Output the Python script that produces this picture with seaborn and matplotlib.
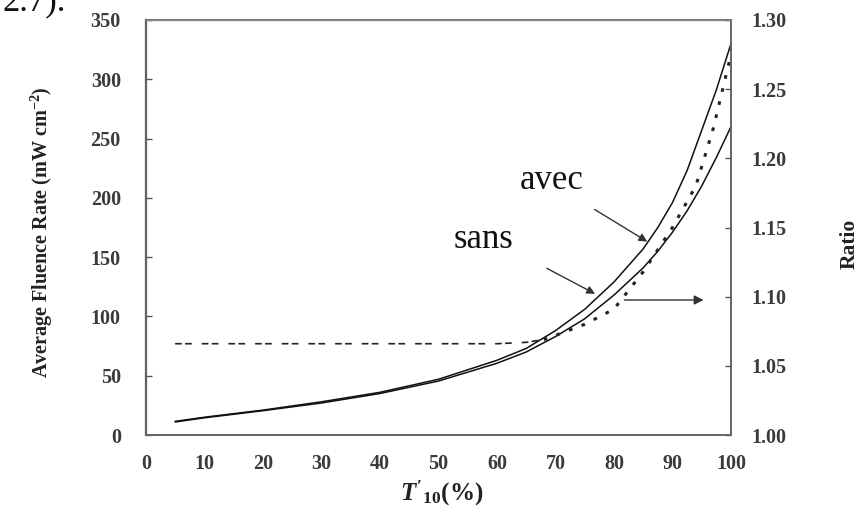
import numpy as np
import pandas as pd
import seaborn as sns
import matplotlib
matplotlib.use("Agg")
import matplotlib.pyplot as plt

# values
t10 = [5, 10, 20, 30, 40, 50, 60, 65, 70, 75, 80, 85, 87.5, 90, 92.5, 95, 97.5, 100]
fluence_upper = [11.5, 15, 21, 28, 36, 47, 63, 73, 88, 106, 129, 157, 175, 196, 223,
                 257, 291, 330]
fluence_lower = [11, 14.5, 20.5, 27, 35, 45.5, 60.5, 70, 83, 98, 118, 141, 155, 171, 189,
                 210, 234, 260]

ratio_t = [5, 10, 20, 30, 40, 50, 60, 65, 68, 70, 75, 80, 85, 90, 94, 97, 100]
ratio = [1.066, 1.066, 1.066, 1.066, 1.066, 1.066, 1.066, 1.067, 1.069, 1.072,
         1.080, 1.091, 1.118, 1.150, 1.180, 1.222, 1.275]

df_f = pd.DataFrame({"t": t10, "upper": fluence_upper, "lower": fluence_lower})
df_r = pd.DataFrame({"t": ratio_t, "ratio": ratio})

sns.set_style("white")
plt.rcParams["font.family"] = ["Liberation Serif", "DejaVu Serif"]
plt.rcParams["mathtext.fontset"] = "custom"
plt.rcParams["mathtext.rm"] = "Liberation Serif:bold"
plt.rcParams["mathtext.it"] = "Liberation Serif:bold:italic"
plt.rcParams["mathtext.bf"] = "Liberation Serif:bold"

fig = plt.figure(figsize=(8.63, 5.18), dpi=100)
ax = fig.add_axes([0.169, 0.1602, 0.678, 0.8012])
ax2 = ax.twinx()

sns.lineplot(data=df_f, x="t", y="upper", ax=ax, color="#111111", lw=1.1)
sns.lineplot(data=df_f, x="t", y="lower", ax=ax, color="#111111", lw=1.1)

flat = df_r[df_r["t"] <= 68]
rise = df_r[df_r["t"] >= 68]
sns.lineplot(data=flat, x="t", y="ratio", ax=ax2, color="#222222", lw=1.2,
             linestyle=(0, (4, 2, 4, 6)))
sns.lineplot(data=rise, x="t", y="ratio", ax=ax2, color="#222222", lw=2.2,
             linestyle=(0, (1.2, 3.2)))

ax.set_xlim(0, 100)
ax.set_ylim(0, 350)
ax2.set_ylim(1.0, 1.30)
ax.set_xticks(np.arange(0, 101, 10))
ax.set_yticks(np.arange(0, 351, 50))
ax2.set_yticks(np.arange(1.0, 1.301, 0.05))
ax2.set_yticklabels([f"{v:.2f}" for v in np.arange(1.0, 1.301, 0.05)])

tick_kw = dict(direction="in", length=4, width=1, labelsize=14.5,
               colors="#555555", labelcolor="#3a3a3a")
ax.tick_params(axis="x", pad=14, **tick_kw)
ax.tick_params(axis="y", pad=18, **tick_kw)
ax2.tick_params(axis="y", pad=15, **tick_kw)
for lab in ax.get_xticklabels() + ax.get_yticklabels() + ax2.get_yticklabels():
    lab.set_fontweight("bold")

for a in (ax, ax2):
    for side in ["top", "right", "left", "bottom"]:
        a.spines[side].set_visible(True)
        a.spines[side].set_color("#666666")
        a.spines[side].set_linewidth(1.3)
ax.spines["left"].set_color("#444444")
ax.spines["left"].set_linewidth(1.6)
ax2.spines["top"].set_color("#888888")
ax2.spines["top"].set_linewidth(1.0)

ax.set_ylabel("Average Fluence Rate (mW cm$^{-2}$)", fontsize=14.5,
              fontweight="bold", color="#222222")
ax.yaxis.set_label_coords(-0.155, 0.49)
ax2.set_ylabel("Ratio", fontsize=15.5, fontweight="bold", color="#222222")
ax2.yaxis.set_label_coords(1.185, 0.46)
ax.set_xlabel(r"$T'_{10}$(%)", fontsize=18, fontweight="bold", color="#222222")
ax.xaxis.set_label_coords(0.505, -0.105)

# annotations
ax.text(63.85, 207.4, "avec", fontsize=25, color="#111111", va="baseline")
ax.text(52.6, 157.7, "sans", fontsize=25, color="#111111", va="baseline")
ax.annotate("", xy=(86.1, 161.9), xytext=(76.3, 191.4),
            arrowprops=dict(arrowstyle="-|>", color="#333333", lw=1.0,
                            mutation_scale=12))
ax.annotate("", xy=(77.2, 118), xytext=(68.1, 141.7),
            arrowprops=dict(arrowstyle="-|>", color="#333333", lw=1.0,
                            mutation_scale=12))
ax2.annotate("", xy=(95.8, 1.0976), xytext=(81.3, 1.0976),
             arrowprops=dict(arrowstyle="-|>", color="#333333", lw=1.0,
                             mutation_scale=14))

# caption fragment cut off at the top edge, as in the source
fig.text(0.003, 1 - 10 / 518, "2.7).", fontsize=25, color="#111111",
         va="baseline", ha="left")

fig.savefig("out.png", dpi=100)
